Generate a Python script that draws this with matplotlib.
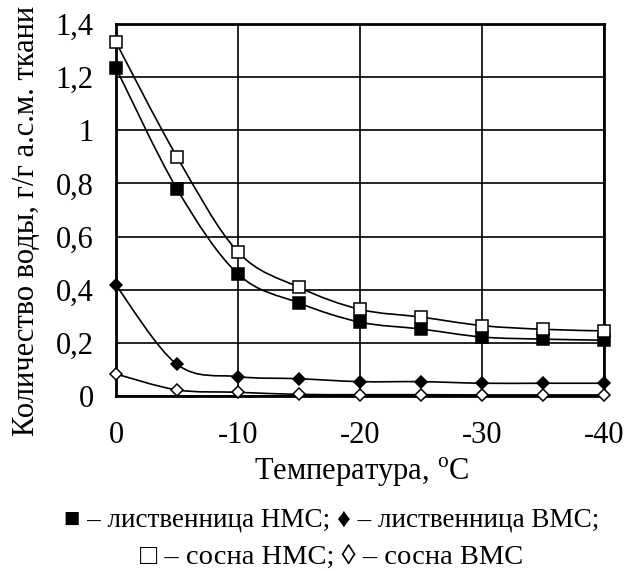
import matplotlib.pyplot as plt
import numpy as np
from matplotlib.path import Path
from matplotlib.patches import PathPatch

plt.rcParams['font.family'] = ['Liberation Serif', 'DejaVu Serif']
plt.rcParams['axes.unicode_minus'] = False
plt.rcParams['mathtext.fontset'] = 'custom'
plt.rcParams['mathtext.rm'] = 'Liberation Serif'

# temperature, degrees C
temps = [0, -5, -10, -15, -20, -25, -30, -35, -40]

# water content, g/g of dry matter
larch_nms = [1.234, 0.779, 0.459, 0.350, 0.278, 0.252, 0.222, 0.214, 0.210]
larch_vms = [0.417, 0.119, 0.073, 0.065, 0.054, 0.054, 0.048, 0.048, 0.048]
pine_nms = [1.331, 0.900, 0.542, 0.409, 0.326, 0.297, 0.265, 0.251, 0.245]
pine_vms = [0.083, 0.023, 0.014, 0.006, 0.005, 0.005, 0.004, 0.004, 0.004]

y_ticks = [0, 0.2, 0.4, 0.6, 0.8, 1.0, 1.2, 1.4]
y_tick_labels = ['0', '0,2', '0,4', '0,6', '0,8', '1', '1,2', '1,4']
x_ticks = [0, -10, -20, -30, -40]


def smooth_path(xs, ys):
    # Excel-style smoothed line: cubic bezier through the points
    pts = np.column_stack([xs, ys]).astype(float)
    n = len(pts)
    verts = [pts[0]]
    codes = [Path.MOVETO]
    for i in range(n - 1):
        p0 = pts[i - 1] if i > 0 else pts[i]
        p1 = pts[i]
        p2 = pts[i + 1]
        p3 = pts[i + 2] if i + 2 < n else pts[i + 1]
        c1 = p1 + (p2 - p0) / 6.0
        c2 = p2 - (p3 - p1) / 6.0
        verts += [c1, c2, p2]
        codes += [Path.CURVE4] * 3
    return Path(verts, codes)


fig = plt.figure(figsize=(6.35, 5.71), dpi=100)
ax = fig.add_axes([116 / 635, 1 - 396 / 571, 488 / 635, 372 / 571])

series = [
    (larch_nms, 's', 'black'),
    (larch_vms, 'D', 'black'),
    (pine_nms, 's', 'white'),
    (pine_vms, 'D', 'white'),
]
for ys, marker, face in series:
    ax.add_patch(PathPatch(smooth_path(temps, ys), facecolor='none',
                           edgecolor='black', lw=1.2, zorder=3))
    ms = 8 if marker == 's' else 6.5
    ax.plot(temps, ys, linestyle='none', marker=marker, markersize=ms,
            markerfacecolor=face, markeredgecolor='black', markeredgewidth=1.1,
            zorder=4, clip_on=False)

ax.set_xlim(0, -40)
ax.set_ylim(0, 1.4)
ax.set_xticks(x_ticks)
ax.set_xticklabels([str(t) for t in x_ticks])
ax.set_yticks(y_ticks)
ax.set_yticklabels(y_tick_labels)
ax.tick_params(length=0, labelsize=22)
ax.tick_params(axis='x', pad=18)
ax.tick_params(axis='y', pad=16)
ax.grid(True, color='black', lw=1.2)
for s in ax.spines.values():
    s.set_linewidth(2)
ax.set_axisbelow(True)

fig.text(27 / 635, 1 - 221 / 571, 'Количество воды, г/г а.с.м. ткани',
         rotation=90, ha='center', va='center', fontsize=22)
fig.text(362 / 635, 1 - 472 / 571, r'Температура, $^{\rm o}$C',
         ha='center', va='center', fontsize=22)
fig.text(332 / 635, 1 - 520 / 571,
         '■ – лиственница НМС; ♦ – лиственница ВМС;',
         ha='center', va='center', fontsize=19.5)
fig.text(332 / 635, 1 - 557 / 571, '□ – сосна НМС; ◊ – сосна ВМС',
         ha='center', va='center', fontsize=20.5)

fig.savefig('out.png', dpi=100)
